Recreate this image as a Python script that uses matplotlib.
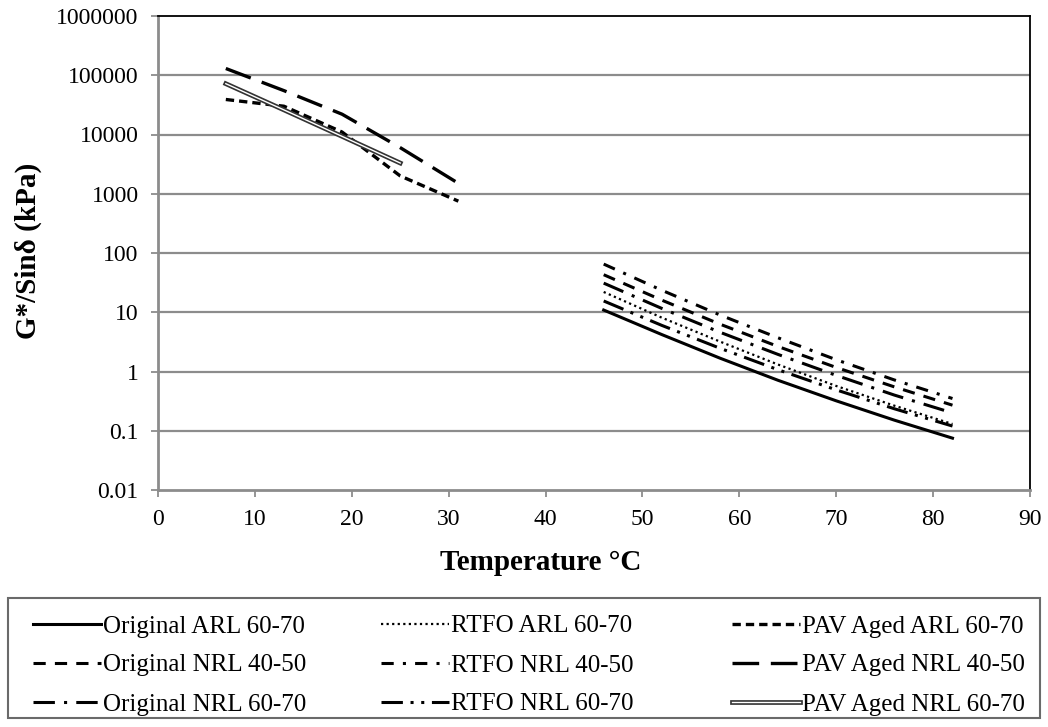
import matplotlib
matplotlib.use("Agg")
import matplotlib.pyplot as plt
import matplotlib.patheffects as pe
from matplotlib.patches import Rectangle
from matplotlib.ticker import FixedLocator, FixedFormatter, NullLocator

plt.rcParams['font.family'] = ['Liberation Serif', 'DejaVu Serif']

# ---- data ----
temp_high = [46, 52, 58, 64, 70, 76, 82]
temp_low = [7, 13, 19, 25, 31]
temp_low_pav60 = [7, 13, 19, 25]

orig_arl = [10.9, 4.2, 1.68, 0.71, 0.32, 0.151, 0.075]
rtfo_arl = [22, 8.1, 3.2, 1.31, 0.57, 0.265, 0.13]
pav_arl = [39000, 30000, 11000, 2000, 750]
orig_nrl4050 = [43, 16, 6.3, 2.64, 1.17, 0.55, 0.27]
rtfo_nrl4050 = [65, 23.5, 9.0, 3.7, 1.58, 0.72, 0.35]
pav_nrl4050 = [130000, 55000, 22000, 6000, 1500]
orig_nrl6070 = [31, 11.6, 4.6, 1.94, 0.86, 0.40, 0.2]
rtfo_nrl6070 = [15.5, 6.0, 2.47, 1.07, 0.49, 0.235, 0.12]
pav_nrl6070 = [72000, 26000, 9300, 3300]

labels = ["Original ARL 60-70", "RTFO ARL 60-70", "PAV Aged ARL 60-70",
          "Original NRL 40-50", "RTFO NRL 40-50", "PAV Aged NRL 40-50",
          "Original NRL 60-70", "RTFO NRL 60-70", "PAV Aged NRL 60-70"]

x_ticks = [0, 10, 20, 30, 40, 50, 60, 70, 80, 90]
y_ticks = [0.01, 0.1, 1, 10, 100, 1000, 10000, 100000, 1000000]
y_ticklabels = ["0.01", "0.1", "1", "10", "100", "1000", "10000", "100000", "1000000"]

W, H = 1048, 727
fig = plt.figure(figsize=(W/100, H/100), dpi=100)
ax = fig.add_axes([158/W, 1-490/H, (1030-158)/W, (490-16)/H])

grid_c = '#8c8c8c'
ax.set_yscale('log')
ax.set_xlim(0, 90)
ax.set_ylim(0.01, 1000000)
for yv in y_ticks[1:-1]:
    ax.axhline(yv, color=grid_c, lw=1.6, zorder=0)

k = 'black'
h_orig_arl, = ax.plot(temp_high, orig_arl, color=k, lw=2.2, ls='-', label=labels[0])
h_rtfo_arl, = ax.plot(temp_high, rtfo_arl, color=k, lw=1.6, ls=(0, (1, 1.5)), label=labels[1])
h_pav_arl, = ax.plot(temp_low, pav_arl, color=k, lw=2.4, ls=(0, (2.5, 1.5)), label=labels[2])
h_orig_4050, = ax.plot(temp_high, orig_nrl4050, color=k, lw=2.2, ls=(0, (4, 3)), label=labels[3])
h_rtfo_4050, = ax.plot(temp_high, rtfo_nrl4050, color=k, lw=2.2, ls=(0, (4, 3, 1, 3)), label=labels[4])
h_pav_4050, = ax.plot(temp_low, pav_nrl4050, color=k, lw=2.4, ls=(0, (8, 3.5)), label=labels[5])
h_orig_6070, = ax.plot(temp_high, orig_nrl6070, color=k, lw=2.2, ls=(0, (7, 3, 1, 3)), label=labels[6])
h_rtfo_6070, = ax.plot(temp_high, rtfo_nrl6070, color=k, lw=2.2, ls=(0, (7, 2.5, 1, 2.5, 1, 2.5)), label=labels[7])
h_pav_6070, = ax.plot(temp_low_pav60, pav_nrl6070, color='white', lw=1.0, ls='-', label=labels[8],
                      path_effects=[pe.Stroke(linewidth=3.4, foreground='#333333'), pe.Normal()])

ax.xaxis.set_major_locator(FixedLocator(x_ticks))
ax.set_xticklabels([str(v) for v in x_ticks])
ax.yaxis.set_major_locator(FixedLocator(y_ticks))
ax.yaxis.set_major_formatter(FixedFormatter(y_ticklabels))
ax.yaxis.set_minor_locator(NullLocator())
ax.tick_params(axis='both', which='major', labelsize=17, color=grid_c, length=5, width=1.3,
               direction='out', pad=9)

for s in ['left', 'bottom']:
    ax.spines[s].set_color(grid_c)
    ax.spines[s].set_linewidth(2)
for s in ['top', 'right']:
    ax.spines[s].set_color('black')
    ax.spines[s].set_linewidth(1.3)

fig.text(541/W, 1-563/H, "Temperature °C", fontsize=21, fontweight='bold', ha='center', va='center')
fig.text(28/W, 1-251/H, "G*/Sinδ (kPa)", fontsize=21, fontweight='bold', ha='center', va='center',
         rotation=90)

# legend frame
fig.add_artist(Rectangle((8/W, 1-718/H), (1040-8)/W, (718-598)/H, transform=fig.transFigure,
                         facecolor='none', edgecolor='#6a6a6a', lw=1.5))

columns = [[h_orig_arl, h_orig_4050, h_orig_6070],
           [h_rtfo_arl, h_rtfo_4050, h_rtfo_6070],
           [h_pav_arl, h_pav_4050, h_pav_6070]]
col_x = [33, 381, 732]
for hs, cx in zip(columns, col_x):
    lg = fig.legend(hs, [h.get_label() for h in hs], loc='upper left',
                    bbox_to_anchor=(cx/W, 1-615/H), frameon=False, fontsize=18,
                    handlelength=2.7, handletextpad=0.1, labelspacing=0.66,
                    borderpad=0, borderaxespad=0)

fig.savefig("out.png", dpi=100)
